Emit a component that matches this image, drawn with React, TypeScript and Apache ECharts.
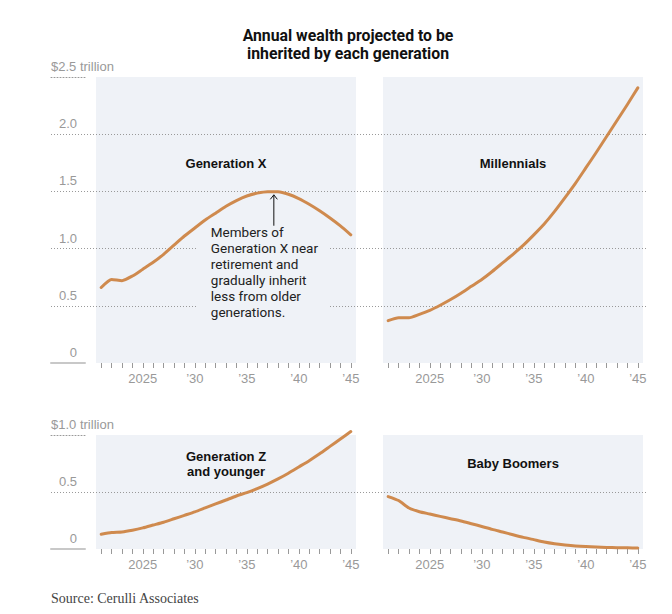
import { useEffect, useRef } from 'react';
import * as echarts from 'echarts';

// Years covered by every panel
const years = [
  '2021', '2022', '2023', '2024', '2025', '2026', '2027', '2028', '2029', '2030',
  '2031', '2032', '2033', '2034', '2035', '2036', '2037', '2038', '2039', '2040',
  '2041', '2042', '2043', '2044', '2045',
];

// Annual inheritance, $ trillion
const genX = [
  0.66, 0.73, 0.72, 0.76, 0.82, 0.88, 0.95, 1.03, 1.11, 1.18,
  1.25, 1.31, 1.37, 1.42, 1.46, 1.485, 1.498, 1.497, 1.475, 1.437,
  1.387, 1.33, 1.267, 1.198, 1.12,
];
const millennials = [
  0.37, 0.395, 0.395, 0.425, 0.46, 0.505, 0.555, 0.61, 0.67, 0.73,
  0.80, 0.875, 0.95, 1.03, 1.12, 1.215, 1.325, 1.445, 1.57, 1.705,
  1.84, 1.98, 2.12, 2.26, 2.405,
];
const genZ = [
  0.13, 0.145, 0.15, 0.165, 0.185, 0.21, 0.235, 0.265, 0.295, 0.325,
  0.36, 0.395, 0.43, 0.465, 0.495, 0.53, 0.57, 0.615, 0.665, 0.72,
  0.775, 0.835, 0.9, 0.965, 1.03,
];
const boomers = [
  0.46, 0.425, 0.36, 0.327, 0.307, 0.286, 0.266, 0.246, 0.222, 0.198,
  0.172, 0.149, 0.125, 0.102, 0.082, 0.062, 0.047, 0.036, 0.027, 0.021,
  0.017, 0.014, 0.012, 0.01, 0.009,
];

// Value-axis tick labels
const topTickValues = [0, 0.5, 1, 1.5, 2, 2.5];
const topTickLabels = ['0', '0.5', '1.0', '1.5', '2.0', '$2.5 trillion'];
const bottomTickValues = [0, 0.5, 1];
const bottomTickLabels = ['0', '0.5', '$1.0 trillion'];

const panelTitles = ['Generation X', 'Millennials', 'Generation Z\nand younger', 'Baby Boomers'];
const chartTitle = 'Annual wealth projected to be\ninherited by each generation';
const noteText =
  'Members of\nGeneration X near\nretirement and\ngradually inherit\nless from older\ngenerations.';
const sourceText = 'Source: Cerulli Associates';

const LINE = '#CF8A4E';
const PANEL = '#EFF2F7';
const GRAY = '#999999';
const SANS = '"Liberation Sans", Arial, sans-serif';

const panels = [
  { left: 96, top: 77, height: 286, max: 2.5, data: genX },
  { left: 383, top: 77, height: 286, max: 2.5, data: millennials },
  { left: 96, top: 435, height: 114, max: 1, data: genZ },
  { left: 383, top: 435, height: 114, max: 1, data: boomers },
];

function tickLabel(values: number[], labels: string[]) {
  return (v: number) => {
    const i = values.findIndex((t) => Math.abs(t - v) < 1e-6);
    if (i < 0) return '';
    return i === labels.length - 1 ? `{t|${labels[i]}}` : `{n|${labels[i]}}`;
  };
}

export default function App() {
  const ref = useRef<HTMLDivElement>(null);

  useEffect(() => {
    document.body.style.margin = '0';
    const chart = echarts.init(ref.current!, null, { renderer: 'svg' });

    const grids: any[] = [];
    const xAxes: any[] = [];
    const yAxes: any[] = [];
    const series: any[] = [];

    panels.forEach((p, i) => {
      grids.push({
        left: p.left, top: p.top, width: 260, height: p.height,
        show: true, backgroundColor: PANEL, borderWidth: 0,
      });
      xAxes.push({
        type: 'category', gridIndex: i, data: years, boundaryGap: true,
        axisLine: { show: false },
        axisTick: { show: true, interval: 0, alignWithLabel: true, length: 5, lineStyle: { color: GRAY, width: 1 } },
        axisLabel: {
          interval: (_idx: number, val: string) => Number(val) % 5 === 0,
          formatter: (val: string) => (val === '2025' ? '2025' : '\u2019' + val.slice(2)),
          color: GRAY, fontFamily: SANS, fontSize: 13, margin: 9,
        },
        splitLine: { show: false },
      });
      yAxes.push({ type: 'value', gridIndex: i, min: 0, max: p.max, show: false });
      series.push({
        type: 'line', xAxisIndex: i, yAxisIndex: i, data: p.data,
        showSymbol: false, smooth: 0.2, z: 3, clip: false,
        lineStyle: { color: LINE, width: 3, cap: 'round', join: 'round' },
      });
    });

    // full-width dotted gridlines (top row, bottom row)
    [
      { top: 77, height: 286, max: 2.5 },
      { top: 435, height: 114, max: 1 },
    ].forEach((g) => {
      const gi = grids.length;
      grids.push({ left: 51, top: g.top, width: 595, height: g.height });
      xAxes.push({ type: 'value', gridIndex: gi, min: 0, max: 1, show: false });
      yAxes.push({
        type: 'value', gridIndex: gi, min: 0, max: g.max, interval: 0.5,
        axisLine: { show: false }, axisTick: { show: false }, axisLabel: { show: false },
        splitLine: {
          show: true, showMinLine: false, showMaxLine: false,
          lineStyle: { color: GRAY, width: 1, type: [1, 2] },
        },
      });
    });

    // short label columns with the zero rule and the top dotted rule
    [
      { top: 77, height: 286, max: 2.5, values: topTickValues, labels: topTickLabels },
      { top: 435, height: 114, max: 1, values: bottomTickValues, labels: bottomTickLabels },
    ].forEach((g) => {
      const gi = grids.length;
      grids.push({ left: 51, top: g.top, width: 34, height: g.height });
      xAxes.push({
        type: 'value', gridIndex: gi, min: 0, max: 1, position: 'bottom',
        axisLine: { show: true, lineStyle: { color: '#C8C8C8', width: 2 } },
        axisTick: { show: false }, axisLabel: { show: false }, splitLine: { show: false },
      });
      xAxes.push({
        type: 'value', gridIndex: gi, min: 0, max: 1, position: 'top',
        axisLine: { show: true, lineStyle: { color: GRAY, width: 1, type: [1, 2] } },
        axisTick: { show: false }, axisLabel: { show: false }, splitLine: { show: false },
      });
      yAxes.push({
        type: 'value', gridIndex: gi, min: 0, max: g.max, interval: 0.5,
        axisLine: { show: false }, axisTick: { show: false }, splitLine: { show: false },
        axisLabel: {
          inside: true, margin: 0, align: 'left', verticalAlign: 'bottom',
          padding: [0, 0, 4, 0],
          formatter: tickLabel(g.values, g.labels),
          rich: {
            n: { width: 26, align: 'right', color: GRAY, fontFamily: SANS, fontSize: 13, lineHeight: 13 },
            t: { align: 'left', color: GRAY, fontFamily: SANS, fontSize: 13, lineHeight: 13 },
          },
        },
      });
    });

    chart.setOption({
      animation: false,
      grid: grids,
      xAxis: xAxes,
      yAxis: yAxes,
      series,
    });

    // centres of the panel headings
    const titleCenters = [
      [226, 163], [513, 163], [226, 464], [513, 463],
    ];

    const graphics: any[] = [
      {
        type: 'text', z: 5, x: 348, y: 44, scaleX: 0.93,
        style: {
          text: chartTitle, x: 0, y: 0, align: 'center', verticalAlign: 'middle',
          fontFamily: 'Roboto, "Liberation Sans", sans-serif', fontWeight: 'bold',
          fontSize: 17, lineHeight: 18, fill: '#111',
        },
      },
      ...panelTitles.map((t, i) => ({
        type: 'text', z: 5,
        style: {
          text: t, x: titleCenters[i][0], y: titleCenters[i][1], align: 'center', verticalAlign: 'middle',
          fontFamily: SANS, fontWeight: 'bold', fontSize: 13, lineHeight: 14.5, fill: '#111',
        },
      })),
      {
        type: 'text', z: 5,
        style: {
          text: sourceText, x: 51, y: 598, align: 'left', verticalAlign: 'middle',
          fontFamily: '"Liberation Serif", "DejaVu Serif", serif', fontSize: 14, fill: '#444',
        },
      },
    ];

    // annotation arrow pointing at the Generation X peak
    const a = chart.convertToPixel({ gridIndex: 0 }, [16, 1.47]) as number[];
    const b = chart.convertToPixel({ gridIndex: 0 }, [17, 1.2]) as number[];
    const ax = a[0] + (b[0] - a[0]) * 0.6;
    const tipY = a[1];
    const baseY = b[1];
    graphics.push(
      {
        type: 'text', z: 1,
        style: {
          text: noteText, x: ax - 77, y: baseY - 4, align: 'left', verticalAlign: 'top',
          fontFamily: 'Roboto, sans-serif', fontSize: 13.5, lineHeight: 16, fill: '#222',
          backgroundColor: PANEL, padding: [2, 12, 2, 14],
        },
      },
      {
        type: 'line', z: 5,
        shape: { x1: ax, y1: tipY, x2: ax, y2: baseY },
        style: { stroke: '#111', lineWidth: 1 },
      },
      {
        type: 'polyline', z: 5,
        shape: { points: [[ax - 3.5, tipY + 4.5], [ax, tipY], [ax + 3.5, tipY + 4.5]] },
        style: { stroke: '#111', lineWidth: 1, fill: 'none' },
      },
    );

    chart.setOption({ graphic: graphics });

    return () => chart.dispose();
  }, []);

  return (
    <div
      ref={ref}
      style={{ width: 672, height: 614, position: 'absolute', left: 0, top: 0 }}
    />
  );
}
